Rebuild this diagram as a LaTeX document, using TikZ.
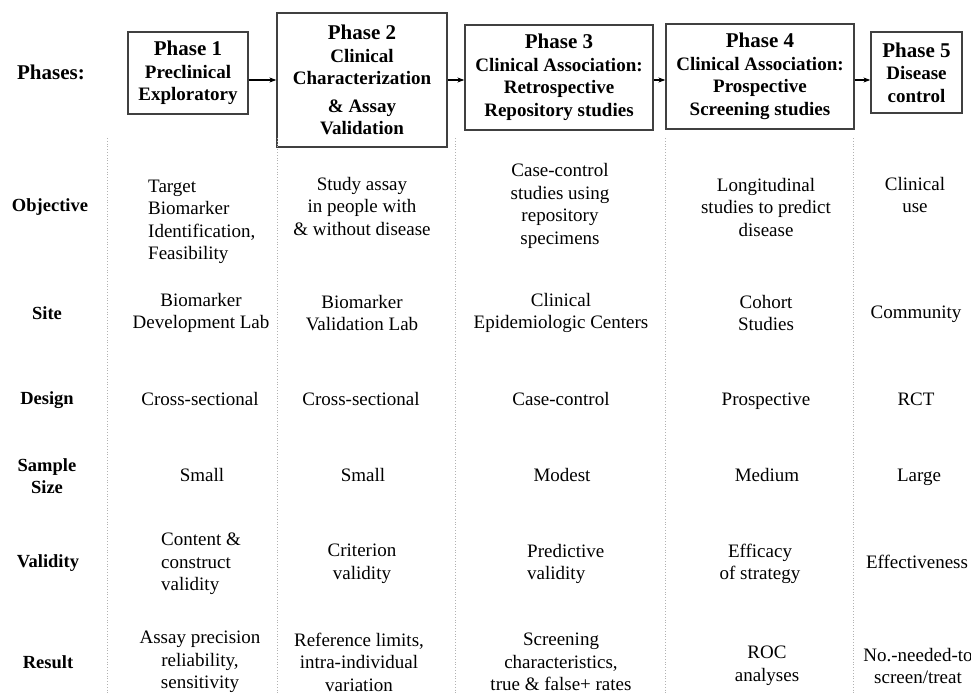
\documentclass[tikz,border=0pt]{standalone}
\usepackage{fontspec}
\setmainfont{Liberation Serif}
\usetikzlibrary{arrows.meta}

\tikzset{
  phasebox/.style={draw=black!75, line width=1.3pt, align=center, inner sep=0pt,
    font=\fontsize{19}{22.5}\selectfont\bfseries},
  rowlabel/.style={align=center, font=\fontsize{18.5}{22}\selectfont\bfseries},
  cell/.style={align=center, font=\fontsize{19}{22.5}\selectfont},
  oneline/.style={cell, text height=14.5pt, text depth=4.5pt},
  cellleft/.style={align=left, anchor=west, inner sep=0pt, font=\fontsize{19}{22.5}\selectfont},
  sepline/.style={black!30, dotted, line width=0.8pt},
  flow/.style={line width=1.1pt, -{Stealth[length=7pt,width=5pt]}}
}
\newcommand{\phasetitle}[1]{{\fontsize{21}{24}\selectfont #1}}

\begin{document}
\begin{tikzpicture}[x=1pt,y=-1pt]
\useasboundingbox (0,0) rectangle (971,693);

% phases along the top
\node[rowlabel, font=\fontsize{21}{24}\selectfont\bfseries] (lblphase) at (51,72) {Phases:};
\node[phasebox, minimum width=120pt, minimum height=82pt] (p1) at (188,73)
  {\phasetitle{Phase 1}\\Preclinical\\Exploratory};
\node[phasebox, minimum width=170pt, minimum height=134pt] (p2) at (362,80)
  {\phasetitle{Phase 2}\\Clinical\\Characterization\\[5pt]\& Assay\\Validation};
\node[phasebox, minimum width=188pt, minimum height=105pt] (p3) at (559,77.5)
  {\phasetitle{Phase 3}\\Clinical Association:\\Retrospective\\Repository studies};
\node[phasebox, minimum width=188pt, minimum height=105pt] (p4) at (760,76.5)
  {\phasetitle{Phase 4}\\Clinical Association:\\Prospective\\Screening studies};
\node[phasebox, minimum width=91pt, minimum height=81pt] (p5) at (916.5,72.5)
  {\phasetitle{Phase 5}\\Disease\\control};

\coordinate (arrowy) at (0,80);
\draw[flow] (p1.east |- arrowy) -- (p2.west |- arrowy);
\draw[flow] (p2.east |- arrowy) -- (p3.west |- arrowy);
\draw[flow] (p3.east |- arrowy) -- (p4.west |- arrowy);
\draw[flow] (p4.east |- arrowy) -- (p5.west |- arrowy);

% column rules
\draw[sepline] (107,138) -- (107,693);
\draw[sepline] (277,138) -- (277,693);
\draw[sepline] (455,138) -- (455,693);
\draw[sepline] (665,138) -- (665,693);
\draw[sepline] (853,138) -- (853,693);

% row labels
\node[rowlabel] (lblobj) at (50,207) {Objective};
\node[rowlabel] (lblsite) at (47,313) {Site};
\node[rowlabel] (lbldesign) at (47,400) {Design};
\node[rowlabel] (lblsize) at (47,476) {Sample\\Size};
\node[rowlabel] (lblvalid) at (48,563) {Validity};
\node[rowlabel] (lblresult) at (48,662) {Result};

% objective
\node[cellleft] (obj1) at (148,222) {Target\\Biomarker\\Identification,\\Feasibility};
\node[cell] (obj2) at (362,206) {Study assay\\in people with\\\& without disease};
\node[cell] (obj3) at (560,206) {Case-control\\studies using\\repository\\specimens};
\node[cell] (obj4) at (766,207) {Longitudinal\\studies to predict\\disease};
\node[cell] (obj5) at (915,195) {Clinical\\use};

% site
\node[cell] (site1) at (201,313) {Biomarker\\Development Lab};
\node[cell] (site2) at (362,313) {Biomarker\\Validation Lab};
\node[cell] (site3) at (561,313) {Clinical\\Epidemiologic Centers};
\node[cell] (site4) at (766,313) {Cohort\\Studies};
\node[oneline] (site5) at (916,313) {Community};

% design
\node[oneline] (des1) at (200,400) {Cross-sectional};
\node[oneline] (des2) at (361,400) {Cross-sectional};
\node[oneline] (des3) at (561,400) {Case-control};
\node[oneline] (des4) at (766,400) {Prospective};
\node[oneline] (des5) at (916,400) {RCT};

% sample size
\node[oneline] (size1) at (202,476) {Small};
\node[oneline] (size2) at (363,476) {Small};
\node[oneline] (size3) at (562,476) {Modest};
\node[oneline] (size4) at (767,476) {Medium};
\node[oneline] (size5) at (919,476) {Large};

% validity
\node[cellleft] (val1) at (161,564) {Content \&\\construct\\validity};
\node[cell] (val2) at (362,564) {Criterion\\validity};
\node[cellleft] (val3) at (527,564) {Predictive\\validity};
\node[cell] (val4) at (760,564) {Efficacy\\of strategy};
\node[oneline] (val5) at (917,563) {Effectiveness};

% result
\node[cell] (res1) at (200,662) {Assay precision\\reliability,\\sensitivity};
\node[cell] (res2) at (359,662) {Reference limits,\\intra-individual\\variation};
\node[cell] (res3) at (561,662) {Screening\\characteristics,\\true \& false+ rates};
\node[cell] (res4) at (767,666) {ROC\\analyses};
\node[cell] (res5) at (918,666) {No.-needed-to\\screen/treat};
\end{tikzpicture}
\end{document}
